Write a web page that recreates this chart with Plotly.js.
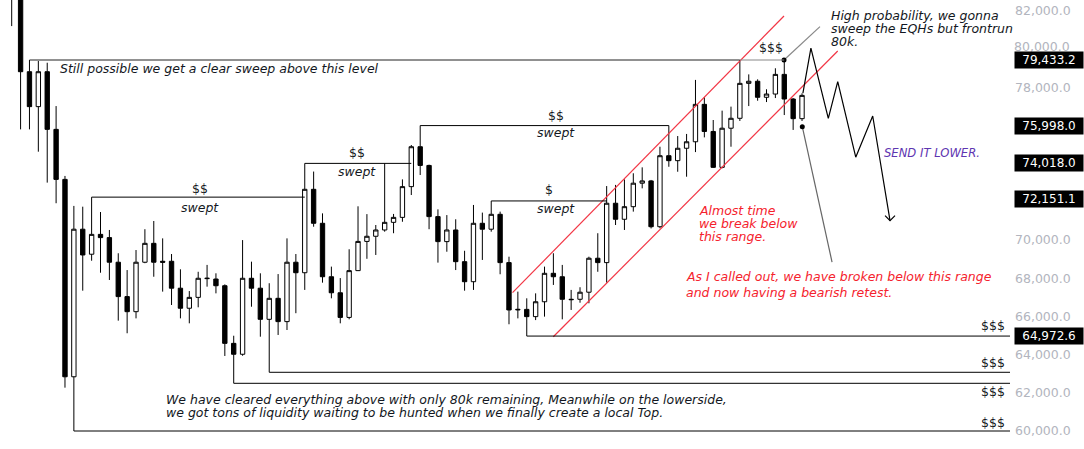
<!DOCTYPE html>
<html><head><meta charset="utf-8">
<script src="https://cdn.plot.ly/plotly-3.0.1.min.js"></script>
<style>html,body{margin:0;padding:0;background:#fff;}#chart{width:1084px;height:449px;}</style>
</head><body><div id="chart"></div>
<script>
// ---- candle data (price) ----
const opens  = [84500,82900,78820,76990,78820,75800,73180,62840,70570,69260,70300,70130,68840,67040,66250,68840,69830,68890,68890,67480,66430,67000,67980,67960,67610,64590,64020,68000,67480,65850,66950,65730,68840,68290,72660,70880,68080,67240,65950,68400,69930,70200,70530,70930,71190,72800,74890,73910,71230,69920,70530,68870,67820,70880,70570,71350,68820,66340,66370,65990,66770,68260,68080,66900,66900,67270,69050,68820,71930,71090,71750,72980,73100,70700,74420,74160,74810,75150,77110,75690,73810,75860,76380,78210,78320,77480,77650,78680,77390,76360];
const highs  = [85000,83500,79433,79380,79290,77020,73360,71790,71750,72250,71470,70530,69310,68430,69480,70570,71000,70090,69270,68470,67330,68340,68700,68260,67680,64990,70000,68870,68260,67740,68220,70090,69270,74018,73590,71400,68610,68010,69520,71770,71360,70790,74018,71370,73180,74980,75998,73950,71610,71310,71090,69440,71840,71440,72050,71490,69130,67300,66950,67210,68610,69310,68700,67390,67530,69130,70360,72830,72890,73180,73500,73810,73150,74890,75998,75450,75560,78390,77480,76290,76780,76990,79433,78680,78420,77900,79000,79433,77440,77690];
const lows   = [81210,75800,75800,74630,73010,71930,62270,60000,67350,68920,68290,67910,65780,65120,65900,68790,68080,67300,66600,65900,65640,66480,67560,67210,63930,62498,63940,66510,64940,63075,65030,65290,66170,67390,70700,67770,66950,65640,65850,68380,69020,69220,70440,70360,70960,72360,73410,70570,68820,69390,68430,67350,67390,68960,70440,68210,65590,65900,64972.6,65810,65990,67650,65850,66340,66720,66690,68340,67770,70790,70530,71490,72710,70610,70620,73840,73580,73320,74610,75380,73780,73760,74890,76240,77020,77300,77230,77440,76550,75770,76240];
const closes = [82900,78820,76990,78820,75800,73180,62840,70570,69220,70300,70130,68840,67040,66250,68840,69830,68840,68840,67480,66430,67000,68000,68000,67610,64590,64020,68000,67480,65850,66950,65730,68840,68290,72660,70880,68080,67240,65950,68400,69930,70200,70530,70930,71190,72800,74890,73910,71230,69920,70530,68870,67820,70880,70570,71350,68820,66340,66370,65990,66770,68260,68080,66900,66880,67270,69050,68820,71930,71090,71750,72980,73100,70700,74420,74160,74810,75150,77110,75690,73810,75860,76380,78210,78320,77480,77650,78680,77390,76360,77580];
const candleIdx = opens.map((_, i) => i);

// ---- drawn levels ----
const eqhLevel = 79433.2;
const eqhFrom = 2, eqhTo = 87, eqhGreyFrom = 82;
const sweptFrom   = [9, 33, 46, 54];
const sweptTo     = [33, 45, 74, 67];
const sweptLevels = [72250, 74018, 75998, 72050];
const sweptMarks  = ['&#36;&#36;', '&#36;&#36;', '&#36;&#36;', '&#36;'];
const liqFrom   = [58, 29, 25, 7];
const liqLevels = [64972.6, 63075, 62498, 60000];
const chanUpperX = [56.4, 86.97], chanUpperY = [67244, 81738];
const chanLowerX = [60.99, 93.02], chanLowerY = [64939, 79904];
const zigX = [89.1, 90, 91.96, 93.02, 95.05, 96.96, 98.91];
const zigY = [77700, 80050, 76380, 78300, 74340, 76500, 71015];
const arrowX = [98.35, 98.91, 99.47];
const arrowY = [71280, 71015, 71280];
const ptr1X = [86.97, 91.02], ptr1Y = [79433.2, 81180];
const ptr2X = [89.03, 92.38], ptr2Y = [75940, 68850];
const priceTags = [79433.2, 75998.0, 74018.0, 72151.1, 64972.6];
const yTicks = [60000,62000,64000,66000,68000,70000,78000,82000];
const yTickShifted = 80000;           // drawn just above the 79,433.2 tag
const LIQ_MARK = '&#36;&#36;&#36;';

const X_RANGE = [-1.318, 112.42];
const Y_RANGE = [59057, 82576];
const DARK = '#131722', RED = '#f5222d', LINE_RED = '#f23645', PURPLE = '#5e35b1';
const TXT_FONT = 'DejaVu Sans, Verdana, sans-serif';
const AXIS_FONT = {family: 'DejaVu Sans, sans-serif', size: 12.5, color: '#b2b5be'};

const traces = [];
traces.push({
  type: 'candlestick', x: candleIdx, open: opens, high: highs, low: lows, close: closes,
  increasing: {line: {color: '#000', width: 1}, fillcolor: '#ffffff'},
  decreasing: {line: {color: '#000', width: 1}, fillcolor: '#000000'},
  whiskerwidth: 0, hoverinfo: 'skip', showlegend: false
});
function lineTrace(xs, ys, color, width) {
  return {type: 'scatter', mode: 'lines', x: xs, y: ys, line: {color: color, width: width},
          hoverinfo: 'skip', showlegend: false, cliponaxis: false};
}
traces.push(lineTrace(chanUpperX, chanUpperY, LINE_RED, 1.2));
traces.push(lineTrace(chanLowerX, chanLowerY, LINE_RED, 1.2));
traces.push(lineTrace(zigX, zigY, '#000', 1.2));
traces.push(lineTrace(arrowX, arrowY, '#000', 1.2));
traces.push(lineTrace(ptr1X, ptr1Y, '#888', 1.2));
traces.push(lineTrace(ptr2X, ptr2Y, '#666', 1.2));
traces.push({type: 'scatter', mode: 'markers', x: [ptr1X[0], ptr2X[0]], y: [ptr1Y[0], ptr2Y[0]],
  marker: {color: '#000', size: 5}, hoverinfo: 'skip', showlegend: false});

const shapes = [];
function hline(x0, x1, y, color) {
  shapes.push({type: 'line', xref: 'x', yref: 'y', x0: x0, x1: x1, y0: y, y1: y,
               line: {color: color, width: 1}});
}
hline(eqhFrom, eqhGreyFrom, eqhLevel, '#222');
hline(eqhGreyFrom, eqhTo, eqhLevel, '#888');
sweptLevels.forEach((lv, i) => hline(sweptFrom[i], sweptTo[i], lv, '#000'));
liqLevels.forEach((lv, i) => hline(liqFrom[i], X_RANGE[1], lv, '#000'));

const annotations = [];
function txt(x, y, text, color, opts) {
  annotations.push(Object.assign({xref: 'x', yref: 'y', x: x, y: y, text: text, showarrow: false,
    xanchor: 'left', yanchor: 'middle', font: {family: TXT_FONT, size: 12.5, color: color}}, opts || {}));
}
txt(5.21, 78962, '<i>Still possible we get a clear sweep above this level</i>', DARK);
const sweptTextX = [21.2, 38.9, 61.3, 61.3];
const sweptMarkX = [21.2, 38.9, 61.3, 60.5];
const sweptMarkY = [72728, 74614, 76552, 72624];
const sweptWordY = [71733, 73619, 75610, 71680];
sweptLevels.forEach((lv, i) => {
  txt(sweptMarkX[i], sweptMarkY[i], sweptMarks[i], DARK, {xanchor: 'center'});
  txt(sweptTextX[i], sweptWordY[i], '<i>swept</i>', DARK, {xanchor: 'center'});
});
txt(85.5, 80063, LIQ_MARK, DARK, {xanchor: 'center'});
txt(92.02, 81790, '<i>High probability, we gonna</i>', DARK);
txt(92.02, 81109, '<i>sweep the EQHs but frontrun</i>', DARK);
txt(92.02, 80428, '<i>80k.</i>', DARK);
txt(98.0, 74562, '<i>SEND IT LOWER.</i>', PURPLE, {font: {family: TXT_FONT, size: 11.6, color: PURPLE}});
txt(77.17, 71560, '<i>Almost time</i>', RED);
txt(77.17, 70880, '<i>we break below</i>', RED);
txt(77.17, 70210, '<i>this range.</i>', RED);
txt(75.7, 68119, '<i>As I called out, we have broken below this range</i>', RED);
txt(75.7, 67281, '<i>and now having a bearish retest.</i>', RED);
txt(17.15, 61676, '<i>We have cleared everything above with only 80k remaining, Meanwhile on the lowerside,</i>', DARK);
txt(17.15, 60995, '<i>we got tons of liquidity waiting to be hunted when we finally create a local Top.</i>', DARK);
const liqMarkY = [65552, 63614, 62043, 60471];
liqMarkY.forEach(y => txt(112.08, y, LIQ_MARK, DARK, {xanchor: 'right'}));

// 80,000 axis label, nudged up so it sits just above the price tag
annotations.push({xref: 'paper', yref: 'y', x: 1, y: yTickShifted, xanchor: 'left', yanchor: 'bottom',
  xshift: 3, yshift: -6, text: yTickShifted.toLocaleString('en-US', {minimumFractionDigits: 1}),
  showarrow: false, font: AXIS_FONT, borderpad: 0});

priceTags.forEach(p => annotations.push({
  xref: 'paper', yref: 'y', x: 1, y: p, xanchor: 'left', yanchor: 'middle', xshift: 4,
  text: p.toLocaleString('en-US', {minimumFractionDigits: 1, maximumFractionDigits: 1}),
  showarrow: false, bgcolor: '#000', borderpad: 1, width: 66,
  font: {family: 'DejaVu Sans, sans-serif', size: 12, color: '#fff'}
}));

const layout = {
  width: 1084, height: 449, margin: {l: 0, r: 74, t: 0, b: 0},
  paper_bgcolor: '#fff', plot_bgcolor: '#fff', showlegend: false, dragmode: false,
  xaxis: {range: X_RANGE, visible: false, showgrid: false, zeroline: false, rangeslider: {visible: false}, fixedrange: true},
  yaxis: {range: Y_RANGE, side: 'right', tickvals: yTicks, tickformat: ',.1f', showgrid: false,
          zeroline: false, showline: false, ticks: '', ticklabelstandoff: 4, fixedrange: true,
          tickfont: AXIS_FONT},
  shapes: shapes, annotations: annotations
};
Plotly.newPlot('chart', traces, layout, {displayModeBar: false, staticPlot: true});
</script></body></html>
